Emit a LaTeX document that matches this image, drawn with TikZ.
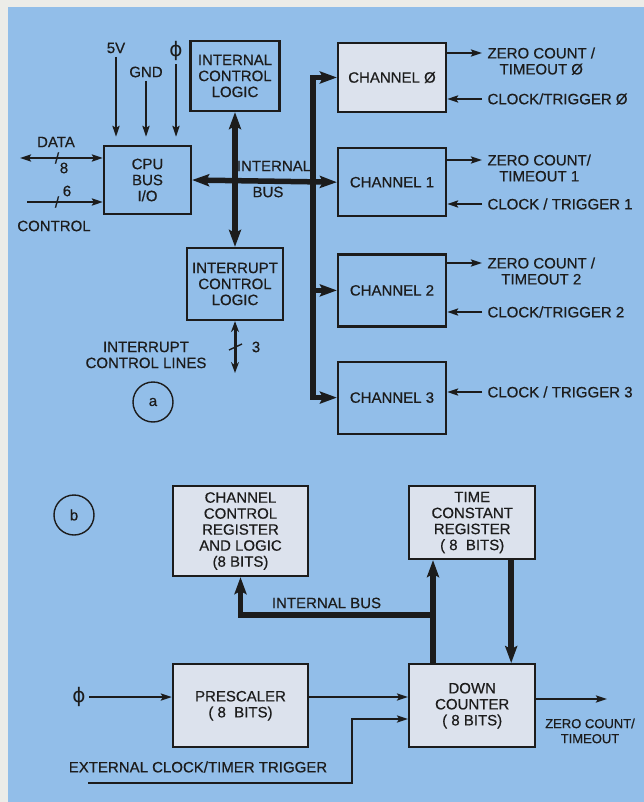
\documentclass[tikz,border=0pt]{standalone}
\usepackage{fontspec}
\setmainfont{Liberation Sans}[FakeBold=0.5]
\newfontfamily\phifam{DejaVu Sans}
\usetikzlibrary{arrows.meta,positioning}
\definecolor{sheet}{RGB}{236,236,232}
\definecolor{bluebg}{RGB}{146,190,233}
\definecolor{boxlite}{RGB}{220,226,237}
\definecolor{ink}{RGB}{28,28,28}

\begin{document}
\begin{tikzpicture}[x=1pt, y=-1pt, ink, font=\fontsize{15}{16}\selectfont,
	   b/.style={draw, line width=2.2pt, align=center, inner sep=2pt},
	   lite/.style={fill=boxlite},
	   bus/.style={line width=5.5pt, >={Stealth[length=17pt,width=12pt,inset=3pt]}},
	   sig/.style={line width=2.3pt, >={Stealth[length=11pt,width=7pt,inset=2pt]}, ->},
	   zlbl/.style={anchor=north west, align=center, yshift=9pt, xshift=2pt},
	   klbl/.style={anchor=west, xshift=2pt},
	   tag/.style={circle, draw, line width=1.4pt, minimum size=40pt, inner sep=0pt},
	   phifont/.style={font=\phifam\fontsize{20}{20}\selectfont}]
	  \fill[sheet] (0,0) rectangle (644,802);
	  \fill[bluebg] (8,7) rectangle (644,802);
	  \useasboundingbox (0,0) rectangle (644,802);
	  % (a) block diagram
	  \node[b, minimum width=87pt, minimum height=68pt] (cpu) at (147.5,180) {CPU\\BUS\\I/O};
	  \node[b, minimum width=89pt, minimum height=70pt] (icl) at (235,76) {INTERNAL\\CONTROL\\LOGIC};
	  \node[b, minimum width=96pt, minimum height=72pt] (irq) at (235,284) {INTERRUPT\\CONTROL\\LOGIC};
	  \node[b, lite, minimum width=108pt, minimum height=69pt] (ch0) at (392,77.5) {CHANNEL Ø};
	  \node[b, minimum width=108pt, minimum height=68pt, below=34pt of ch0] (ch1) {CHANNEL 1};
	  \node[b, minimum width=108pt, minimum height=72pt, below=36pt of ch1] (ch2) {CHANNEL 2};
	  \node[b, minimum width=108pt, minimum height=72pt, below=33pt of ch2] (ch3) {CHANNEL 3};
	  \coordinate (bx) at (313,0);
	  \draw[bus,<->] (ch0.west) -- (ch0.west -| bx) |- (ch3.west);
	  \draw[bus,<->] (cpu.east) -- (ch1.west);
	  \draw[bus,->] (ch2.west -| bx) -- (ch2.west);
	  \draw[bus,<->] (icl.south) -- (irq.north);
	  \node at (274,166) {INTERNAL};
	  \node at (268,192) {BUS};
	  % supply and clock inputs
	  \node (v5) at (116,48) {5V};
	  \node (gnd) at (146,72) {GND};
	  \node[phifont] (phi) at (176,51) {ϕ};
	  \draw[sig, shorten >=8pt] (v5) -- (v5 |- cpu.north);
	  \draw[sig, shorten >=8pt] (gnd) -- (gnd |- cpu.north);
	  \draw[sig, shorten >=8pt] (phi) -- (phi |- cpu.north);
	  % data and control lines
	  \coordinate (dd) at (20,158);
	  \coordinate (cc) at (27,202);
	  \draw[sig,<->] (dd) -- (dd -| cpu.west);
	  \draw[sig] (cc) -- (cc -| cpu.west);
	  \node at (56,142) {DATA};
	  \node at (57,158) {/};
	  \node at (64,168) {8};
	  \node at (57,202) {/};
	  \node at (67,191) {6};
	  \node at (54,226) {CONTROL};
	  % interrupt lines
	  \coordinate (il) at (235,373);
	  \draw[line width=3pt, >={Stealth[length=11pt,width=8pt]}, <->] (irq.south) -- (il);
	  \draw[line width=1.4pt] (229,350) -- (242,344);
	  \node at (256,347) {3};
	  \node[align=center] at (146,355) {INTERRUPT\\CONTROL LINES};
	  \node[tag] (ta) at (153,402) {a};
	  % channel outputs and inputs
	  \coordinate (z0) at (482,53);
	  \coordinate (k0) at (482,99);
	  \coordinate (z1) at (482,160);
	  \coordinate (k1) at (482,204);
	  \coordinate (z2) at (482,263);
	  \coordinate (k2) at (482,312);
	  \coordinate (k3) at (482,392);
	  \draw[sig] (ch0.east |- z0) -- (z0);
	  \draw[sig] (k0) -- (ch0.east |- k0);
	  \draw[sig] (ch1.east |- z1) -- (z1);
	  \draw[sig] (k1) -- (ch1.east |- k1);
	  \draw[sig] (ch2.east |- z2) -- (z2);
	  \draw[sig] (k2) -- (ch2.east |- k2);
	  \draw[sig] (k3) -- (ch3.east |- k3);
	  \node[zlbl] at (z0) {ZERO COUNT /\\TIMEOUT Ø};
	  \node[klbl] at (k0) {CLOCK/TRIGGER Ø};
	  \node[zlbl] at (z1) {ZERO COUNT/\\TIMEOUT 1};
	  \node[klbl] at (k1) {CLOCK / TRIGGER 1};
	  \node[zlbl] at (z2) {ZERO COUNT /\\TIMEOUT 2};
	  \node[klbl] at (k2) {CLOCK/TRIGGER 2};
	  \node[klbl] at (k3) {CLOCK / TRIGGER 3};
	  % (b) one channel
	  \node[tag] (tb) at (74,515) {b};
	  \node[b, lite, minimum width=135pt, minimum height=90pt] (ccr) at (240.5,531) {CHANNEL\\CONTROL\\REGISTER\\AND LOGIC\\(8 BITS)};
	  \node[b, lite, minimum width=135pt, minimum height=83pt, below=86pt of ccr] (pre) {PRESCALER\\( 8\ \ BITS)};
	  \node[b, lite, minimum width=126pt, minimum height=83pt, right=99pt of pre] (dc) {DOWN\\COUNTER\\( 8 BITS)};
	  \node[b, lite, minimum width=126pt, minimum height=73pt, above=103pt of dc] (tcr) {TIME\\CONSTANT\\REGISTER\\( 8\ \ BITS)};
	  \coordinate (jb) at (433,615);
	  \draw[bus,->] (dc.north -| jb) -- (tcr.south -| jb);
	  \draw[bus,->] (jb) -| (ccr.south);
	  \draw[bus,->] ([xshift=39pt]tcr.south) -- ([xshift=39pt]dc.north);
	  \node at (326.5,603) {INTERNAL BUS};
	  \node[phifont] (phib) at (79,697) {ϕ};
	  \draw[sig] (phib) -- (phib -| pre.west);
	  \draw[sig] (pre.east |- phib) -- (dc.west |- phib);
	  \coordinate (ex) at (88,783);
	  \coordinate (ey) at (352,719);
	  \draw[sig] (ex) -| (ey) -- (ey -| dc.west);
	  \node at (198,767) {EXTERNAL CLOCK/TIMER TRIGGER};
	  \coordinate (zo) at (607,699);
	  \draw[sig] (dc.east |- zo) -- (zo);
	  \node[align=center, font=\fontsize{13}{15}\selectfont] at (590,731) {ZERO COUNT/\\TIMEOUT};
	\end{tikzpicture}
\end{document}
